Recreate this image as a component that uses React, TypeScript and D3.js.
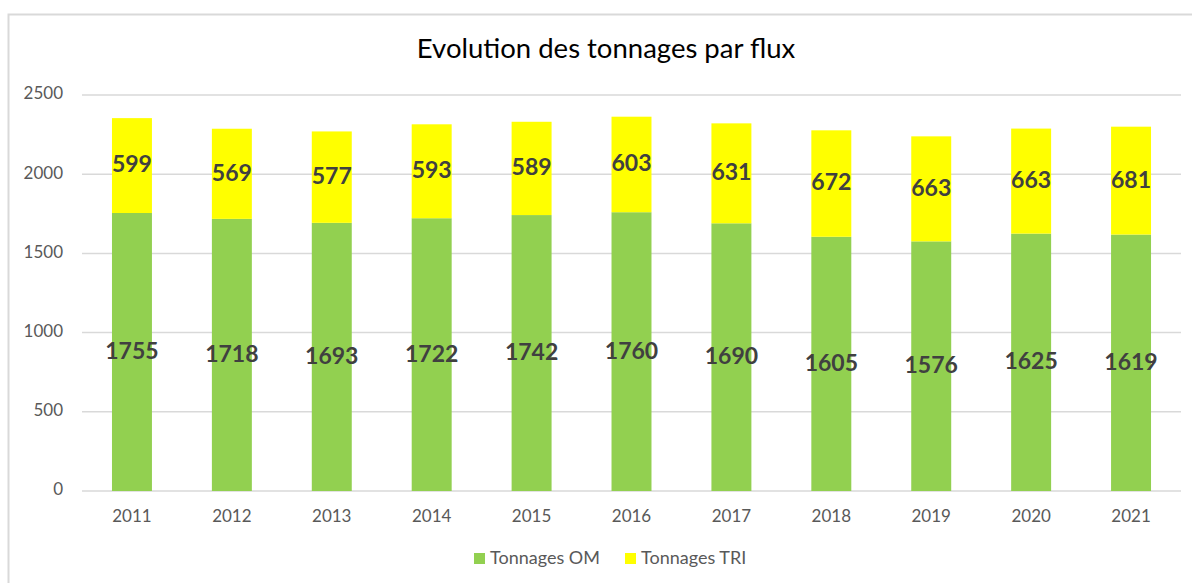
import { useMemo } from 'react';
import * as d3 from 'd3';

const years = ['2011', '2012', '2013', '2014', '2015', '2016', '2017', '2018', '2019', '2020', '2021'];
const tonnagesOM = [1755, 1718, 1693, 1722, 1742, 1760, 1690, 1605, 1576, 1625, 1619];
const tonnagesTRI = [599, 569, 577, 593, 589, 603, 631, 672, 663, 663, 681];
const yTickValues = [0, 500, 1000, 1500, 2000, 2500];
const seriesNames = ['Tonnages OM', 'Tonnages TRI'];
const seriesColors = ['#92D050', '#FFFF00'];

const width = 1192;
const height = 583;
const margin = { top: 95, right: 11, bottom: 92, left: 82 };
const font = 'Lato, "Open Sans", sans-serif';

export default function App() {
  const innerWidth = width - margin.left - margin.right;
  const innerHeight = height - margin.top - margin.bottom;

  const { x, y, stacks } = useMemo(() => {
    const x = d3.scaleBand().domain(years).range([0, innerWidth]).paddingInner(0.6).paddingOuter(0.3);
    const y = d3.scaleLinear().domain([0, 2500]).range([innerHeight, 0]);
    const rows = years.map((yr, i) => ({ year: yr, om: tonnagesOM[i], tri: tonnagesTRI[i] }));
    const stacks = d3.stack<any>().keys(['om', 'tri'])(rows);
    return { x, y, stacks };
  }, [innerWidth, innerHeight]);

  return (
    <svg width={width} height={height} style={{ position: 'absolute', left: 0, top: 0 }}>
      <rect x={0} y={0} width={width} height={height} fill="#fff" />
      {/* chart frame */}
      <rect x={8.5} y={14.5} width={width + 20} height={height + 20} fill="none" stroke="#D9D9D9" strokeWidth={2} />
      <text x={606} y={58} textAnchor="middle" fontSize={27.5} fontFamily={font} fill="#000">
        Evolution des tonnages par flux
      </text>
      <g transform={`translate(${margin.left},${margin.top})`}>
        {yTickValues.map((t) => (
          <g key={t}>
            <line x1={0} x2={innerWidth} y1={y(t)} y2={y(t)} stroke="#D9D9D9" strokeWidth={1.5} />
            <text x={-19} y={y(t)} textAnchor="end" dominantBaseline="middle" fontSize={17} fontFamily={font} fill="#595959">
              {t}
            </text>
          </g>
        ))}
        {stacks.map((layer, si) => (
          <g key={si}>
            {layer.map((d, i) => {
              const bx = x(years[i])!;
              const y0 = y(d[0]);
              const y1 = y(d[1]);
              return (
                <g key={i}>
                  <rect x={bx} y={y1} width={x.bandwidth()} height={y0 - y1} fill={seriesColors[si]} />
                  <text
                    x={bx + x.bandwidth() / 2}
                    y={(y0 + y1) / 2 + 1}
                    textAnchor="middle"
                    dominantBaseline="middle"
                    fontSize={23}
                    fontWeight="bold"
                    fontFamily={font}
                    fill="#404040"
                  >
                    {d[1] - d[0]}
                  </text>
                </g>
              );
            })}
          </g>
        ))}
        {years.map((yr) => (
          <text
            key={yr}
            x={x(yr)! + x.bandwidth() / 2}
            y={innerHeight + 27}
            textAnchor="middle"
            dominantBaseline="middle"
            fontSize={17}
            fontFamily={font}
            fill="#595959"
          >
            {yr}
          </text>
        ))}
      </g>
      {/* legend */}
      <g transform="translate(474,553)">
        {seriesNames.map((n, i) => (
          <g key={n} transform={`translate(${i * 151},0)`}>
            <rect x={0} y={0} width={11} height={11} fill={seriesColors[i]} />
            <text x={16} y={6} dominantBaseline="middle" fontSize={18} fontFamily={font} fill="#595959">
              {n}
            </text>
          </g>
        ))}
      </g>
    </svg>
  );
}
